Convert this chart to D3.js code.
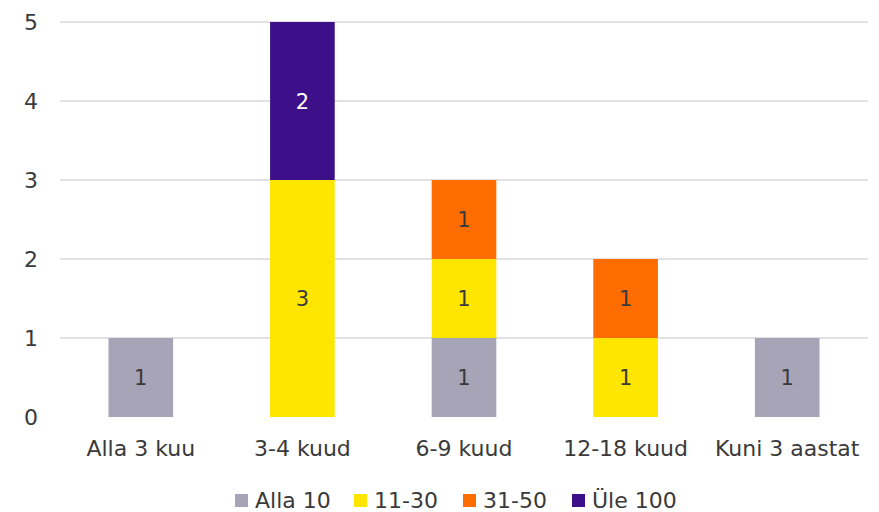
<!DOCTYPE html>
<html><head><meta charset="utf-8">
<script src="https://cdn.jsdelivr.net/npm/d3@7"></script>
<style>body{margin:0;background:#fff;} text{font-family:"DejaVu Sans",sans-serif;}</style>
</head><body><svg id="c" width="879" height="512"></svg>
<script>
const categories = ["Alla 3 kuu","3-4 kuud","6-9 kuud","12-18 kuud","Kuni 3 aastat"];
const seriesNames = ["Alla 10","11-30","31-50","Üle 100"];
const alla10 = [1,0,1,0,1];
const s11_30 = [0,3,1,1,0];
const s31_50 = [0,0,1,1,0];
const yle100 = [0,2,0,0,0];
const yTicks = [0,1,2,3,4,5];
const colors = ["#A6A4B6","#FFE600","#FF6D00","#3D108A"];
const labelColors = ["#3a3a3a","#3a3a3a","#3a3a3a","#ffffff"];

const svg = d3.select("#c");
const x = d3.scaleBand().domain(categories).range([60,868]).paddingInner(0.6).paddingOuter(0.3);
const y = d3.scaleLinear().domain([0,5]).range([417,22]);

const data = categories.map((c,i)=>({cat:c,"Alla 10":alla10[i],"11-30":s11_30[i],"31-50":s31_50[i],"Üle 100":yle100[i]}));
const stack = d3.stack().keys(seriesNames)(data);

svg.append("g").selectAll("line").data(yTicks.filter(d=>d>0)).join("line")
  .attr("x1",60).attr("x2",868).attr("y1",d=>y(d)).attr("y2",d=>y(d))
  .attr("stroke","#D9D9DE").attr("stroke-width",1.5);

svg.append("g").selectAll("text").data(yTicks).join("text")
  .attr("x",31).attr("y",d=>y(d)).attr("dy","0.36em").attr("text-anchor","middle")
  .attr("font-size",22).attr("fill","#3a3a3a").text(d=>d);

stack.forEach((s,si)=>{
  const g = svg.append("g");
  g.selectAll("rect").data(s.filter(d=>d[1]-d[0]>0)).join("rect")
    .attr("x",d=>x(d.data.cat)).attr("width",x.bandwidth())
    .attr("y",d=>y(d[1])).attr("height",d=>y(d[0])-y(d[1]))
    .attr("fill",colors[si]);
  g.selectAll("text").data(s.filter(d=>d[1]-d[0]>0)).join("text")
    .attr("x",d=>x(d.data.cat)+x.bandwidth()/2).attr("y",d=>y((d[0]+d[1])/2))
    .attr("dy","0.36em").attr("text-anchor","middle").attr("font-size",21)
    .attr("fill",labelColors[si]).text(d=>d[1]-d[0]);
});

svg.append("g").selectAll("text").data(categories).join("text")
  .attr("x",d=>x(d)+x.bandwidth()/2).attr("y",448).attr("dy","0.36em")
  .attr("text-anchor","middle").attr("font-size",22).attr("fill","#3a3a3a").text(d=>d);

const legX = [235,354,463,572];
const lg = svg.append("g");
seriesNames.forEach((n,i)=>{
  lg.append("rect").attr("x",legX[i]).attr("y",494).attr("width",13).attr("height",13).attr("fill",colors[i]);
  lg.append("text").attr("x",legX[i]+20).attr("y",500.5).attr("dy","0.36em").attr("font-size",22).attr("fill","#3a3a3a").text(n);
});
</script></body></html>
